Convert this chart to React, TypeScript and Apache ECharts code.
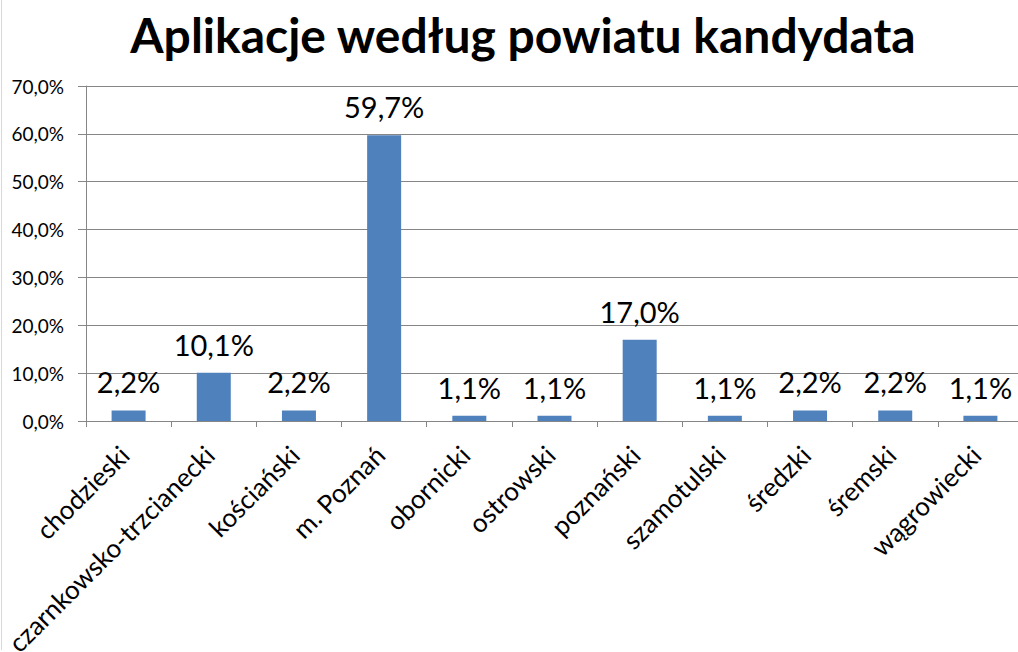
import React, { useEffect, useRef } from "react";
import * as echarts from "echarts";

const titleText = "Aplikacje według powiatu kandydata";
const categories = [
  "chodzieski",
  "czarnkowsko-trzcianecki",
  "kościański",
  "m. Poznań",
  "obornicki",
  "ostrowski",
  "poznański",
  "szamotulski",
  "średzki",
  "śremski",
  "wągrowiecki",
];
const values = [2.2, 10.1, 2.2, 59.7, 1.1, 1.1, 17.0, 1.1, 2.2, 2.2, 1.1];
const yMin = 0;
const yMax = 70;
const yStep = 10;

const fmt = (v: number) => v.toFixed(1).replace(".", ",") + "%";

export default function App() {
  const ref = useRef<HTMLDivElement>(null);
  useEffect(() => {
    if (!ref.current) return;
    const chart = echarts.init(ref.current, null, { renderer: "svg" });
    const font = "Lato";
    chart.setOption({
      animation: false,
      backgroundColor: "#ffffff",
      textStyle: { fontFamily: font },
      title: {
        text: titleText,
        left: 518,
        top: 5,
        textAlign: "center",
        textStyle: { fontFamily: font, fontSize: 48, fontWeight: "bold", color: "#000000" },
      },
      graphic: [
        {
          type: "line",
          shape: { x1: 1.5, y1: 0, x2: 1.5, y2: 650 },
          style: { stroke: "#d9d9d9", lineWidth: 1 },
        },
      ],
      grid: {
        left: 86,
        top: 86,
        width: 937,
        height: 335,
        containLabel: false,
        outerBoundsMode: "none",
      },
      xAxis: {
        type: "category",
        data: categories,
        axisLine: { lineStyle: { color: "#868686", width: 1 } },
        axisTick: { show: true, length: 6, lineStyle: { color: "#868686" } },
        axisLabel: {
          rotate: 45,
          interval: 0,
          fontFamily: font,
          fontSize: 26,
          color: "#000000",
          margin: 25,
          padding: [0, 6, 0, 0],
        },
      },
      yAxis: {
        type: "value",
        min: yMin,
        max: yMax,
        interval: yStep,
        axisLine: { show: true, lineStyle: { color: "#868686", width: 1 } },
        axisTick: { show: true, length: 8, lineStyle: { color: "#868686" } },
        splitLine: { show: true, lineStyle: { color: "#868686", width: 1 } },
        axisLabel: {
          formatter: (v: number) => fmt(v),
          fontFamily: font,
          fontSize: 19,
          color: "#000000",
          margin: 22,
        },
      },
      series: [
        {
          type: "bar",
          data: values,
          barWidth: 34,
          itemStyle: { color: "#4F81BD" },
          label: {
            show: true,
            position: "top",
            distance: 14,
            formatter: (p: any) => fmt(p.value),
            fontFamily: font,
            fontSize: 29,
            color: "#000000",
          },
        },
      ],
    });
    return () => chart.dispose();
  }, []);
  return (
    <div
      ref={ref}
      style={{ position: "fixed", left: 0, top: 0, width: 1018, height: 652, background: "#fff" }}
    />
  );
}
